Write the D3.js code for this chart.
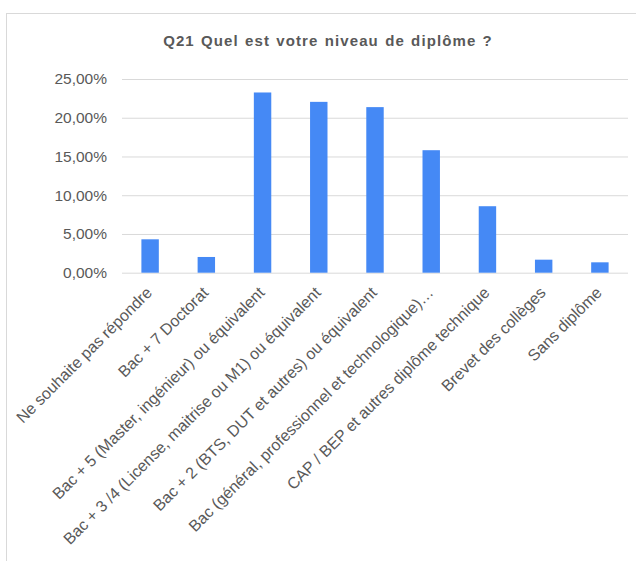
<!DOCTYPE html>
<html>
<head>
<meta charset="utf-8">
<script src="https://cdn.jsdelivr.net/npm/d3@7"></script>
<style>
  body { margin: 0; background: #fff; }
  text { font-family: "Liberation Sans", Arial, sans-serif; fill: #595959; }
</style>
</head>
<body>
<svg id="chart" width="636" height="561"></svg>
<script>
// données
const categories = [
    "Ne souhaite pas répondre",
    "Bac + 7 Doctorat",
    "Bac + 5 (Master, ingénieur) ou équivalent",
    "Bac + 3 /4 (License, maitrise ou M1) ou équivalent",
    "Bac + 2 (BTS, DUT et autres) ou équivalent",
    "Bac (général, professionnel et technologique)…",
    "CAP / BEP et autres diplôme technique",
    "Brevet des collèges",
    "Sans diplôme"
];
const values = [0.0431, 0.0203, 0.2326, 0.2205, 0.2137, 0.1581, 0.0858, 0.0168, 0.0134];
const yTicks = [0, 0.05, 0.10, 0.15, 0.20, 0.25];

const svg = d3.select('#chart');
const margin = {left: 122, right: 8, top: 79};
const width = 636;

// cadre du graphique
svg.append('rect')
    .attr('x', 6.5).attr('y', 13.5)
    .attr('width', 640).attr('height', 600)
    .attr('fill', 'none')
    .attr('stroke', '#d9d9d9');

svg.append('text')
    .attr('x', 328).attr('y', 46)
    .attr('text-anchor', 'middle')
    .attr('font-size', 15)
    .attr('font-weight', 'bold')
    .attr('letter-spacing', 1.1)
    .attr('word-spacing', 1)
    .text('Q21 Quel est votre niveau de diplôme ?');

const x = d3.scaleBand()
    .domain(categories)
    .range([margin.left, width - margin.right])
    .paddingInner(0.69)
    .paddingOuter(0.345);

const y = d3.scaleLinear()
    .domain([0, 0.25])
    .range([272.7, margin.top]);

const fmt = v => d3.format('.2f')(v * 100).replace('.', ',') + '%';

// grille + axe Y
const yAxis = svg.append('g')
    .attr('transform', `translate(${margin.left},0)`)
    .call(d3.axisLeft(y).tickValues(yTicks).tickFormat(fmt)
        .tickSize(-(width - margin.right - margin.left)).tickPadding(15));
yAxis.select('.domain').remove();
yAxis.selectAll('line').attr('stroke', '#d9d9d9').attr('stroke-width', 1);
yAxis.selectAll('text').attr('font-size', 15.5).attr('fill', '#595959');

// barres
svg.append('g').selectAll('rect')
    .data(values)
    .enter()
    .append('rect')
    .attr('x', (d, i) => x(categories[i]))
    .attr('y', d => y(d))
    .attr('width', x.bandwidth())
    .attr('height', d => y(0) - y(d))
    .attr('fill', '#4589f5');

// étiquettes de l'axe X
const xAxis = svg.append('g')
    .attr('transform', `translate(0,${y(0)})`)
    .call(d3.axisBottom(x).tickSize(0).tickPadding(0));
xAxis.select('.domain').remove();
xAxis.selectAll('text')
    .attr('font-size', 16)
    .attr('fill', '#595959')
    .attr('text-anchor', 'end')
    .attr('dy', 0)
    .attr('transform', 'translate(3,21) rotate(-45)');
</script>
</body>
</html>
